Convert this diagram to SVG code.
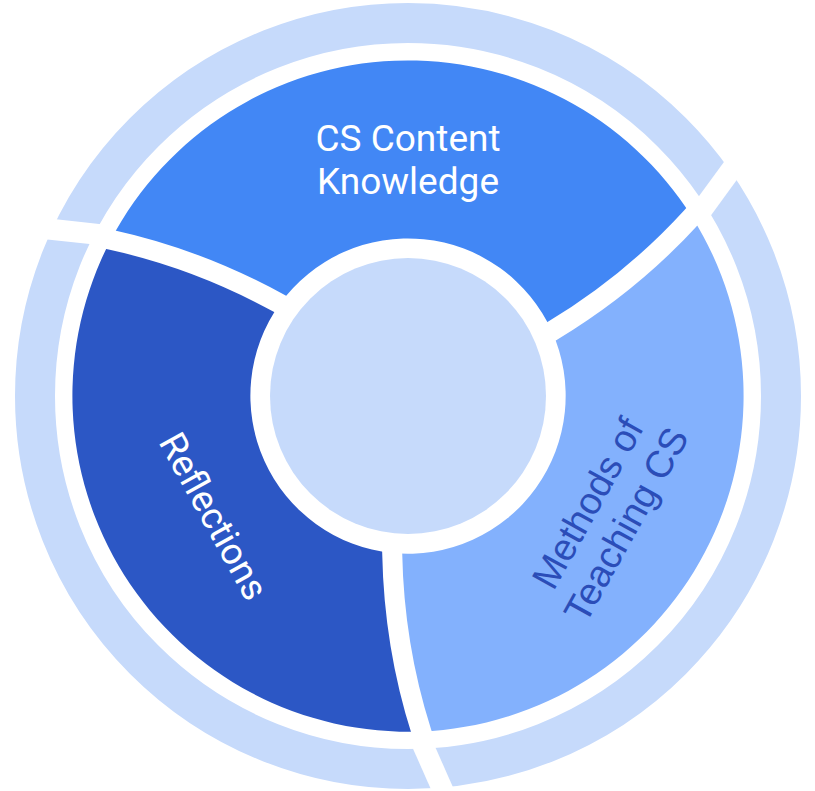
<svg xmlns="http://www.w3.org/2000/svg" width="815" height="791" viewBox="0 0 815 791">
<style>
.ring{fill:none;stroke:#c6dafb;stroke-width:40}
.hub{fill:#c6dafb}
.divider{fill:none;stroke:#ffffff;stroke-width:20}
.cut{fill:none;stroke:#ffffff;stroke-width:21}
.label{font-family:Roboto,"Liberation Sans",sans-serif;font-size:37px;text-anchor:middle}
.label-alt{font-family:"Liberation Sans",Arial,sans-serif;font-size:38px;text-anchor:middle}
</style>
<defs>
<path id="seg" d="M -15.8,157 Q -14,250 13.3,335.5 A 336 336 0 0 1 -297.2,-156.23 Q -209.5,-137.1 -128.07,-92.18 A 158 158 0 0 0 -15.8,157 Z"/>
<path id="div" d="M -16,147 L -15.8,157 Q -14,250 13.3,335.5 L 15.5,342.5"/>
<path id="cutp" d="M 12.2,343 L 38,401.4"/>
</defs>
<rect width="815" height="791" fill="#ffffff"/>
<g id="outer-ring"><circle class="ring" cx="408" cy="396" r="373"/></g>
<g id="node-reflections">
<use href="#seg" transform="translate(408,396)" fill="#2c57c5"/>
<text class="label" fill="#ffffff" transform="translate(214,516) rotate(61)" x="0" y="13">Reflections</text>
</g>
<g id="node-cs-content">
<use href="#seg" transform="translate(408,396) rotate(120)" fill="#4287f5"/>
<text class="label" fill="#ffffff"><tspan x="408" y="151">CS Content</tspan><tspan x="408" y="194">Knowledge</tspan></text>
</g>
<g id="node-methods">
<use href="#seg" transform="translate(408,396) rotate(240)" fill="#83b1fd"/>
<text class="label-alt" fill="#2b4db8" transform="translate(607,514) rotate(-61)"><tspan x="0" y="-9">Methods of</tspan><tspan x="0" y="35">Teaching CS</tspan></text>
</g>
<g id="center"><circle class="hub" cx="408" cy="396" r="138"/></g>
<g id="connectors">
<use href="#div" class="divider" transform="translate(408,396)"/>
<use href="#div" class="divider" transform="translate(408,396) rotate(120)"/>
<use href="#div" class="divider" transform="translate(408,396) rotate(240)"/>
<use href="#cutp" class="cut" transform="translate(408,396)"/>
<use href="#cutp" class="cut" transform="translate(408,396) rotate(120)"/>
<use href="#cutp" class="cut" transform="translate(408,396) rotate(240)"/>
</g>
</svg>
